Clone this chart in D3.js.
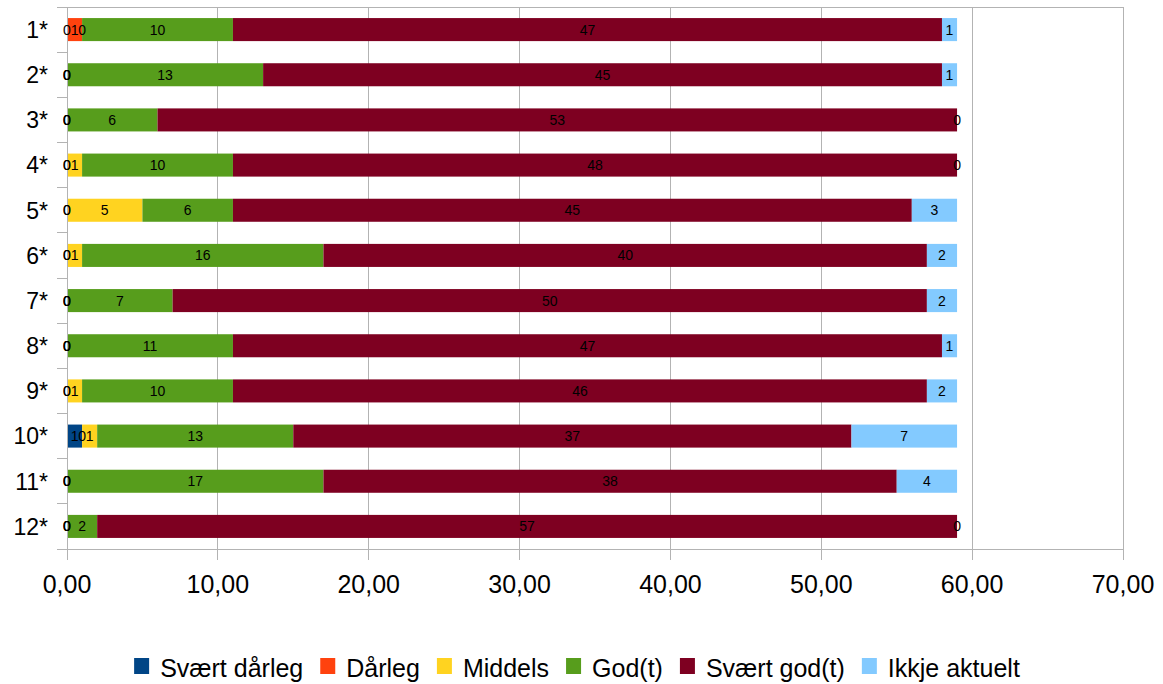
<!DOCTYPE html>
<html>
<head>
<meta charset="utf-8">
<script src="https://cdn.jsdelivr.net/npm/d3@7"></script>
<style>
  html, body { margin: 0; padding: 0; background: #fff; }
  svg { display: block; font-family: "Liberation Sans", Arial, sans-serif; }
</style>
</head>
<body>
<svg id="chart" width="1163" height="684"></svg>
<script>
const categories = ["1*","2*","3*","4*","5*","6*","7*","8*","9*","10*","11*","12*"];
const seriesNames = ["Svært dårleg","Dårleg","Middels","God(t)","Svært god(t)","Ikkje aktuelt"];
const seriesColors = ["#004586","#ff420e","#ffd320","#579d1c","#7e0021","#83caff"];
const svaertDaarleg = [0,0,0,0,0,0,0,0,0,1,0,0];
const daarleg       = [1,0,0,0,0,0,0,0,0,0,0,0];
const middels       = [0,0,0,1,5,1,0,0,1,1,0,0];
const godt          = [10,13,6,10,6,16,7,11,10,13,17,2];
const svaertGodt    = [47,45,53,48,45,40,50,47,46,37,38,57];
const ikkjeAktuelt  = [1,1,0,0,3,2,2,1,2,7,4,0];
const xTicks = [0,10,20,30,40,50,60,70];

(function () {
const seriesValues = [svaertDaarleg, daarleg, middels, godt, svaertGodt, ikkjeAktuelt];
const rows = categories.map((c, i) => {
  const o = { cat: c };
  seriesNames.forEach((s, k) => { o[s] = seriesValues[k][i]; });
  return o;
});
const stacked = d3.stack().keys(seriesNames)(rows);

const svg = d3.select("#chart");
const pL = 67, pR = 1123, pT = 7, pB = 549;

const x = d3.scaleLinear().domain([0, 70]).range([pL, pR]);
const y = d3.scaleBand().domain(categories).range([pT, pB])
  .paddingInner(0.49).paddingOuter(0.245);

const locale = d3.formatLocale({ decimal: ",", thousands: " ", grouping: [3], currency: ["", ""] });
const fmt = locale.format(".2f");
const grid = "#b3b3b3";

// vertical gridlines + ticks
svg.append("g").selectAll("line").data(xTicks).join("line")
  .attr("x1", d => x(d)).attr("x2", d => x(d))
  .attr("y1", pT).attr("y2", pB + 11)
  .attr("stroke", grid).attr("stroke-width", 1).attr("shape-rendering", "crispEdges");

// top line and x-axis line
svg.append("line").attr("x1", pL - 10).attr("x2", pR).attr("y1", pT).attr("y2", pT)
  .attr("stroke", grid).attr("shape-rendering", "crispEdges");
svg.append("line").attr("x1", pL - 10).attr("x2", pR).attr("y1", pB).attr("y2", pB)
  .attr("stroke", grid).attr("shape-rendering", "crispEdges");

// category ticks on the left
const step = y.step();
const bounds = d3.range(categories.length + 1).map(i => pT + i * step);
svg.append("g").selectAll("line").data(bounds).join("line")
  .attr("x1", pL - 10).attr("x2", pL).attr("y1", d => d).attr("y2", d => d)
  .attr("stroke", grid).attr("shape-rendering", "crispEdges");

// bars
const g = svg.append("g");
stacked.forEach((layer, k) => {
  g.append("g").attr("fill", seriesColors[k]).selectAll("rect").data(layer).join("rect")
    .attr("x", d => x(d[0]))
    .attr("width", d => x(d[1]) - x(d[0]))
    .attr("y", d => y(d.data.cat))
    .attr("height", y.bandwidth());
});

// y axis line
svg.append("line").attr("x1", pL).attr("x2", pL).attr("y1", pT).attr("y2", pB)
  .attr("stroke", grid).attr("shape-rendering", "crispEdges");

// data labels
const lg = svg.append("g").attr("font-size", 14).attr("fill", "#000").attr("text-anchor", "middle");
stacked.forEach((layer, k) => {
  lg.append("g").selectAll("text").data(layer).join("text")
    .attr("x", d => (x(d[0]) + x(d[1])) / 2)
    .attr("y", d => y(d.data.cat) + y.bandwidth() / 2)
    .attr("dy", "0.36em")
    .text(d => d[1] - d[0]);
});

// category labels
svg.append("g").attr("font-size", 23).attr("text-anchor", "end").attr("fill", "#000")
  .selectAll("text").data(categories).join("text")
  .attr("x", 48)
  .attr("y", d => y(d) + y.bandwidth() / 2)
  .attr("dy", "0.36em")
  .text(d => d);

// x tick labels
svg.append("g").attr("font-size", 25).attr("text-anchor", "middle").attr("fill", "#000")
  .selectAll("text").data(xTicks).join("text")
  .attr("x", d => x(d))
  .attr("y", 584)
  .attr("dy", "0.36em")
  .text(d => fmt(d));

// legend
const leg = svg.append("g");
const items = leg.selectAll("g").data(seriesNames).join("g");
items.append("rect").attr("width", 15).attr("height", 16).attr("y", 658)
  .attr("fill", (d, i) => seriesColors[i]);
items.append("text").attr("font-size", 25).attr("y", 677).attr("x", 26).text(d => d);
const widths = [];
items.each(function () { widths.push(d3.select(this).select("text").node().getComputedTextLength()); });
const gap = 17;
const total = d3.sum(widths.map(w => 26 + w)) + gap * (widths.length - 1);
let cx = 577 - total / 2;
items.each(function (d, i) {
  d3.select(this).attr("transform", `translate(${cx},0)`);
  cx += 26 + widths[i] + gap;
});
})();
</script>
</body>
</html>
